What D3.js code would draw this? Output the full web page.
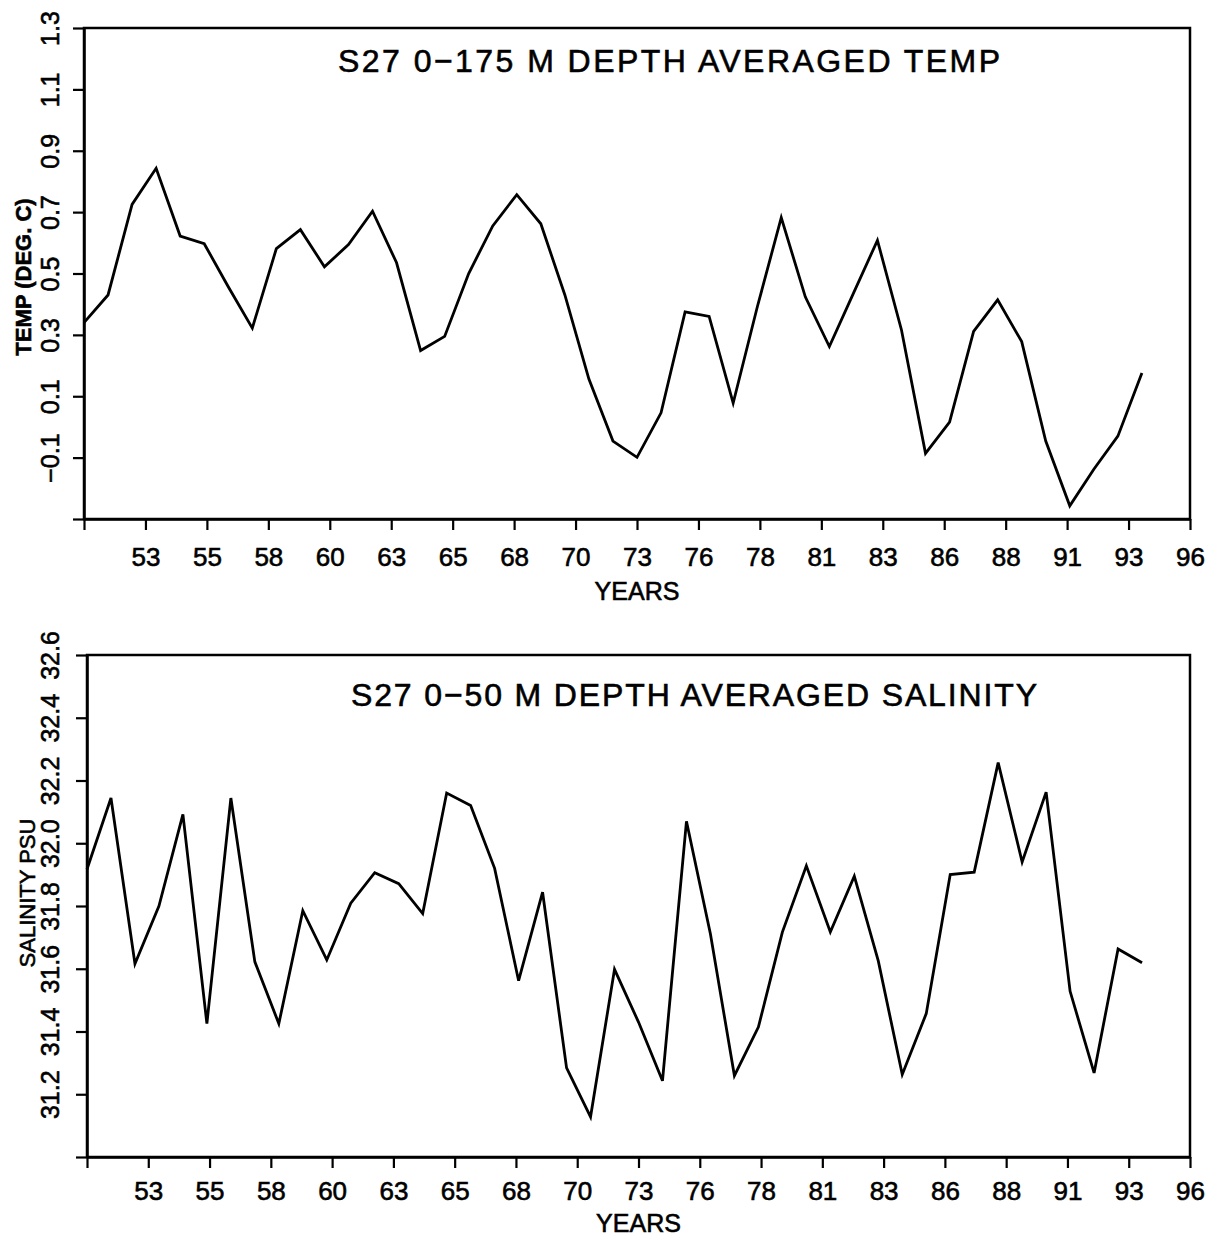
<!DOCTYPE html>
<html>
<head>
<meta charset="utf-8">
<script src="https://cdn.jsdelivr.net/npm/d3@7/dist/d3.min.js"></script>
<style>
  html, body { margin: 0; padding: 0; background: #fff; }
  svg text { font-family: "Liberation Sans", Arial, Helvetica, sans-serif; fill: #000; stroke: #000; stroke-width: 0.6px; }
</style>
</head>
<body>
<svg id="chart" width="1228" height="1238"></svg>
<script>
// ---------- data ----------
const years = [1950,1951,1952,1953,1954,1955,1956,1957,1958,1959,
               1960,1961,1962,1963,1964,1965,1966,1967,1968,1969,
               1970,1971,1972,1973,1974,1975,1976,1977,1978,1979,
               1980,1981,1982,1983,1984,1985,1986,1987,1988,1989,
               1990,1991,1992,1993,1994];

const tempValues = [0.34, 0.43, 0.725, 0.843, 0.622, 0.597, 0.457, 0.322, 0.581, 0.643,
                    0.522, 0.594, 0.703, 0.535, 0.249, 0.295, 0.50, 0.655, 0.757, 0.662,
                    0.43, 0.156, -0.046, -0.099, 0.046, 0.375, 0.36, 0.078, 0.39, 0.682,
                    0.424, 0.262, 0.435, 0.608, 0.316, -0.086, 0.016, 0.311, 0.414, 0.278,
                    -0.046, -0.257, -0.138, -0.03, 0.176];

const salinityValues = [31.917, 32.144, 31.616, 31.80, 32.092, 31.425, 32.144, 31.622, 31.425, 31.785,
                        31.628, 31.809, 31.906, 31.871, 31.776, 32.16, 32.12, 31.92, 31.562, 31.844,
                        31.284, 31.128, 31.598, 31.43, 31.243, 32.07, 31.711, 31.259, 31.414, 31.717,
                        31.928, 31.717, 31.895, 31.625, 31.263, 31.457, 31.90, 31.908, 32.257, 31.94,
                        32.163, 31.528, 31.268, 31.663, 31.619];

const xDomain = [1950, 1996];
const xTickLabels = ["", "53","55","58","60","63","65","68","70","73","76","78","81","83","86","88","91","93","96"];

const tempDomain = [-0.3, 1.3];
const tempTicks = [-0.3, -0.1, 0.1, 0.3, 0.5, 0.7, 0.9, 1.1, 1.3];
const tempTickLabels = ["", "\u22120.1", "0.1", "0.3", "0.5", "0.7", "0.9", "1.1", "1.3"];

const salDomain = [31.0, 32.6];
const salTicks = [31.0, 31.2, 31.4, 31.6, 31.8, 32.0, 32.2, 32.4, 32.6];
const salTickLabels = ["", "31.2", "31.4", "31.6", "31.8", "32.0", "32.2", "32.4", "32.6"];

const panels = [
  { title: "S27  0\u2212175  M  DEPTH  AVERAGED  TEMP", ylabel: "TEMP (DEG. C)", ylabelWeight: "bold",
    values: tempValues, yDomain: tempDomain, yTicks: tempTicks, yLabels: tempTickLabels,
    left: 84, right: 1190, top: 28, bottom: 519,
    titleX0: 338, titleX1: 1000, titleBase: 72, tickBase: 566, xlabelBase: 600, ylabelX: 31, ylabelY: 277 },
  { title: "S27  0\u221250  M  DEPTH  AVERAGED  SALINITY", ylabel: "SALINITY  PSU", ylabelWeight: "normal",
    values: salinityValues, yDomain: salDomain, yTicks: salTicks, yLabels: salTickLabels,
    left: 87, right: 1190, top: 655, bottom: 1157,
    titleX0: 351, titleX1: 1037, titleBase: 706, tickBase: 1200, xlabelBase: 1232, ylabelX: 35, ylabelY: 893 }
];

const svg = d3.select("#chart");

panels.forEach(p => {
  const x = d3.scaleLinear().domain(xDomain).range([p.left, p.right]);
  const y = d3.scaleLinear().domain(p.yDomain).range([p.bottom, p.top]);
  const xTicks = xTickLabels.map((_, i) => xDomain[0] + i * (xDomain[1] - xDomain[0]) / (xTickLabels.length - 1));

  const g = svg.append("g");

  // frame
  g.append("rect")
    .attr("x", p.left).attr("y", p.top)
    .attr("width", p.right - p.left).attr("height", p.bottom - p.top)
    .attr("fill", "none").attr("stroke", "#000").attr("stroke-width", 2.5);

  // x axis
  const xAxis = g.append("g")
    .attr("transform", `translate(0,${p.bottom})`)
    .call(d3.axisBottom(x).tickValues(xTicks).tickSize(11).tickSizeOuter(0)
      .tickFormat((d, i) => xTickLabels[i]));
  xAxis.select(".domain").attr("stroke-width", 2.5);
  xAxis.selectAll(".tick line").attr("stroke-width", 2.2);
  xAxis.selectAll(".tick text")
    .attr("y", p.tickBase - p.bottom).attr("dy", 0)
    .attr("font-size", 26);

  // y axis
  const yAxis = g.append("g")
    .attr("transform", `translate(${p.left},0)`)
    .call(d3.axisLeft(y).tickValues(p.yTicks).tickSize(11).tickSizeOuter(0)
      .tickFormat((d, i) => p.yLabels[i]));
  yAxis.select(".domain").attr("stroke-width", 2.5);
  yAxis.selectAll(".tick line").attr("stroke-width", 2.2);
  yAxis.selectAll(".tick text")
    .attr("text-anchor", "middle")
    .attr("transform", "rotate(-90)")
    .attr("x", 0).attr("dy", 0)
    .attr("y", 59 - p.left)
    .attr("font-size", 25);

  // data line
  const line = d3.line()
    .x((d, i) => x(years[i]))
    .y(d => y(d));
  g.append("path")
    .datum(p.values)
    .attr("d", line)
    .attr("fill", "none")
    .attr("stroke", "#000")
    .attr("stroke-width", 2.8)
    .attr("stroke-linejoin", "miter");

  // title
  g.append("text")
    .attr("x", p.titleX0).attr("y", p.titleBase)
    .attr("font-size", 32)
    .attr("textLength", p.titleX1 - p.titleX0)
    .attr("lengthAdjust", "spacing")
    .text(p.title);

  // x label
  g.append("text")
    .attr("x", (p.left + p.right) / 2).attr("y", p.xlabelBase)
    .attr("text-anchor", "middle")
    .attr("font-size", 25)
    .text("YEARS");

  // y label
  g.append("text")
    .attr("transform", `translate(${p.ylabelX},${p.ylabelY}) rotate(-90)`)
    .attr("text-anchor", "middle")
    .attr("font-size", 22)
    .attr("font-weight", p.ylabelWeight)
    .text(p.ylabel);
});
</script>
</body>
</html>
